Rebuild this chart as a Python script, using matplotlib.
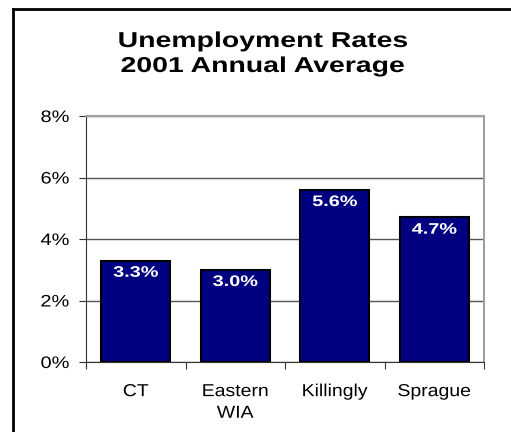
import matplotlib.pyplot as plt
from matplotlib.lines import Line2D
from matplotlib.patheffects import AbstractPathEffect
from matplotlib.transforms import Affine2D

# --- datos ---
categorias = ["CT", "Eastern\nWIA", "Killingly", "Sprague"]
tasas = [3.3, 3.0, 5.6, 4.7]
etiquetas = ["3.3%", "3.0%", "5.6%", "4.7%"]
yticks = [0, 2, 4, 6, 8]
ytick_labels = ["0%", "2%", "4%", "6%", "8%"]

plt.rcParams['font.family'] = ['Liberation Sans', 'DejaVu Sans']


class Estirar(AbstractPathEffect):
    """Ensancha el texto en horizontal (la referencia está estirada)."""
    def __init__(self, sx=1.25, modo='center'):
        super().__init__()
        self.sx = sx
        self.modo = modo

    def draw_path(self, renderer, gc, tpath, affine, rgbFace=None):
        ext = tpath.get_extents()
        if self.modo == 'right':
            p = ext.x1
        elif self.modo == 'left':
            p = ext.x0
        else:
            p = (ext.x0 + ext.x1) / 2
        t = Affine2D().translate(-p, 0).scale(self.sx, 1).translate(p, 0) + affine
        renderer.draw_path(gc, tpath, t, rgbFace)


fig = plt.figure(figsize=(5.11, 4.32), dpi=100)
ax = fig.add_axes([86 / 511, 1 - 362 / 432, (484 - 86) / 511, (362 - 116) / 432])

x = list(range(len(categorias)))
ax.bar(x, tasas, width=0.69, color='#000080', edgecolor='black', linewidth=1.5, zorder=3)

for xi, v, lab in zip(x, tasas, etiquetas):
    ax.text(xi, v - 0.17, lab, ha='center', va='top', color='white',
            fontsize=11, fontweight='bold', zorder=4,
            path_effects=[Estirar(1.3)])

ax.set_xlim(-0.5, len(categorias) - 0.5)
ax.set_ylim(0, 8)
ax.set_yticks(yticks)
ax.set_yticklabels(ytick_labels, fontsize=12)
for t in ax.get_yticklabels():
    t.set_path_effects([Estirar(1.2, 'right')])
ax.yaxis.grid(True, color='#555555', linewidth=1, zorder=0)

# ticks del eje x entre categorías
ax.set_xticks([i - 0.5 for i in range(len(categorias) + 1)])
ax.set_xticklabels([])
ax.tick_params(axis='x', direction='out', length=5, color='#333333')
ax.tick_params(axis='y', direction='out', length=5, color='#333333', pad=7)
for xi, c in zip(x, categorias):
    ax.text(xi, -0.72, c, ha='center', va='top', fontsize=12.5, linespacing=1.55,
            path_effects=[Estirar(1.12)])

ax.spines['left'].set_color('#333333')
ax.spines['bottom'].set_color('#333333')
ax.spines['top'].set_color('#a0a0a0')
ax.spines['right'].set_color('#a0a0a0')
ax.spines['top'].set_linewidth(1.5)
ax.spines['right'].set_linewidth(1.5)

fig.text(263 / 511, 1 - 47 / 432, "Unemployment Rates", ha='center', va='baseline',
         fontsize=15.5, fontweight='bold', path_effects=[Estirar(1.32)])
fig.text(263 / 511, 1 - 72 / 432, "2001 Annual Average", ha='center', va='baseline',
         fontsize=15.5, fontweight='bold', path_effects=[Estirar(1.32)])

# marco exterior
fig.add_artist(Line2D([13 / 511, 13 / 511], [0, 1 - 9 / 432], color='black', linewidth=2,
                      transform=fig.transFigure))
fig.add_artist(Line2D([13 / 511, 1], [1 - 9 / 432, 1 - 9 / 432], color='black', linewidth=2,
                      transform=fig.transFigure))

fig.savefig("out.png", dpi=100)
